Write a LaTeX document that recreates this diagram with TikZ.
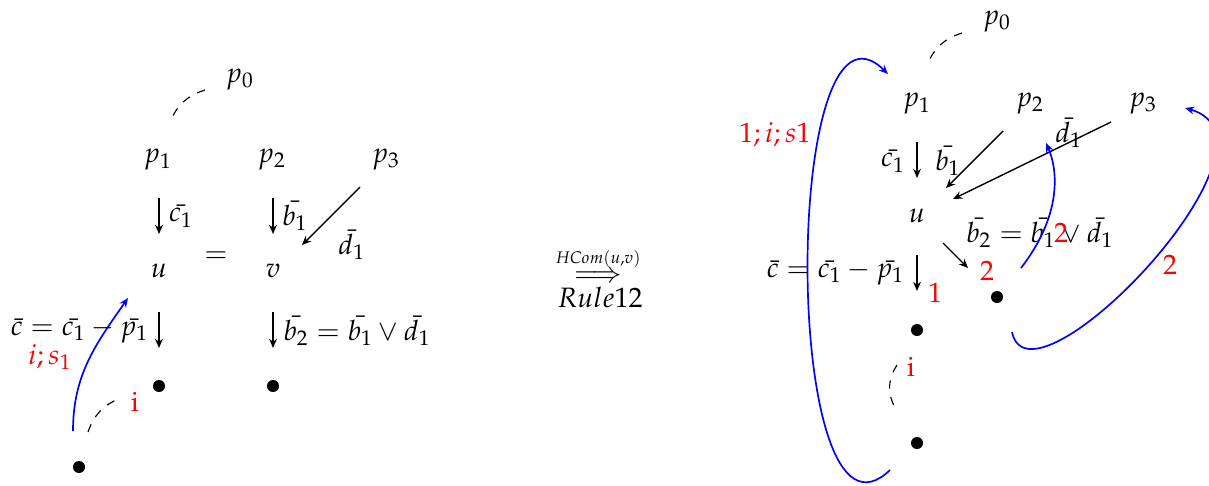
\documentclass[tikz,border=0pt]{standalone}
\usepackage{amsmath}
\usepackage{mathpazo}
\usetikzlibrary{arrows.meta}
\begin{document}
\begin{tikzpicture}[x=0.357pt,y=-0.357pt,>={Stealth[length=3.3pt,width=2.8pt,inset=1.1pt]},
  txt/.style={inner sep=0pt},
  redlbl/.style={inner sep=0pt,text=red},
  dot/.style={circle,fill=black,inner sep=0pt,minimum size=4.3pt},
  blueedge/.style={blue,->,semithick},
  arr/.style={->,line width=0.5pt},
  varr/.style={->,line width=0.6pt},
  dashedarc/.style={dashed}]
\useasboundingbox (0,0) rectangle (1209,485);
% ---------------- left panel ----------------
\node[txt] (Lp0) at (240,80) {$p_0$};
\node[txt] (Lp1) at (158,160) {$p_1$};
\node[txt] (Lp2) at (272,160) {$p_2$};
\node[txt] (Lp3) at (386,160) {$p_3$};
\node[txt] (Lc1) at (181,216) {$\bar{c_1}$};
\node[txt] (Lb1) at (295,216) {$\bar{b_1}$};
\node[txt] (Ld1) at (352,245) {$\bar{d_1}$};
\node[txt] (Lu) at (159,271) {$u$};
\node[txt] (Leq) at (216,257) {$=$};
\node[txt] (Lv) at (273,271) {$v$};
\node[txt,anchor=east] (Lc) at (149,331) {$\bar c=\bar{c_1}-\bar{p_1}$};
\node[txt,anchor=west] (Lb2) at (283,331) {$\bar{b_2}=\bar{b_1}\vee\bar{d_1}$};
\node[dot] (Ldu) at (159,386) {};
\node[dot] (Ldv) at (273,386) {};
\node[dot] (Ldi) at (79,467) {};
\node[redlbl] (Lis) at (50,357) {$i;s_1$};
\node[redlbl] (Li) at (135,402) {$\mathrm{i}$};
\coordinate (Lv1a) at (159,198); \coordinate (Lv1b) at (159,234);
\draw[varr] (Lv1a) -- (Lv1b);
\coordinate (Lv2a) at (273,198); \coordinate (Lv2b) at (273,234);
\draw[varr] (Lv2a) -- (Lv2b);
\coordinate (Lv3a) at (159,312); \coordinate (Lv3b) at (159,348);
\draw[varr] (Lv3a) -- (Lv3b);
\coordinate (Lv4a) at (273,312); \coordinate (Lv4b) at (273,348);
\draw[varr] (Lv4a) -- (Lv4b);
\coordinate (Lp0a) at (205,90);
\coordinate (Lp0b) at (170,122);
\draw[dashedarc] (Lp0a) to[bend right=25] (Lp0b);
\coordinate (Ld1a) at (360,187);
\coordinate (Ld1b) at (302,245);
\draw[arr] (Ld1a) -- (Ld1b);
\coordinate (Lbs) at (73,431);
\coordinate (Lbe) at (128,298);
\draw[blueedge] (Lbs) to[out=90,in=-125] (Lbe);
\coordinate (Lds) at (88,432);
\coordinate (Lde) at (121,398);
\draw[dashedarc] (Lds) to[bend left=25] (Lde);
% ---------------- middle ----------------
\node[txt] (Harr) at (598,265) {$\overset{\scriptscriptstyle HCom(u,v)}{\Longrightarrow}$};
\node[txt] (Rule) at (600,297) {$Rule12$};
% ---------------- right panel ----------------
\node[txt] (Rp0) at (997,22) {$p_0$};
\node[txt] (Rp1) at (917,104) {$p_1$};
\node[txt] (Rp2) at (1030,104) {$p_2$};
\node[txt] (Rp3) at (1143,104) {$p_3$};
\node[txt] (Rc1) at (893,161) {$\bar{c_1}$};
\node[txt] (Rb1) at (948,161) {$\bar{b_1}$};
\node[txt] (Rd1) at (1069,133) {$\bar{d_1}$};
\node[txt] (Ru) at (917,216) {$u$};
\node[txt] (Rb2) at (1040,233) {$\bar{b_2}=\bar{b_1}\vee\bar{d_1}$};
\node[txt,anchor=east] (Rc) at (905,273) {$\bar c=\bar{c_1}-\bar{p_1}$};
\node[dot] (Rdb) at (997,297) {};
\node[dot] (Rdu) at (917,330) {};
\node[dot] (Rdi) at (917,443) {};
\node[redlbl] (R2a) at (1061,233) {$2$};
\node[redlbl] (R2b) at (987,271) {$2$};
\node[redlbl] (R1) at (935,293) {$1$};
\node[redlbl] (Ri) at (911,367) {$\mathrm{i}$};
\node[redlbl] (R2c) at (1170,265) {$2$};
\node[redlbl] (Ris) at (775,135) {$1;i;s1$};
\coordinate (Rv1a) at (917,142); \coordinate (Rv1b) at (917,178);
\draw[varr] (Rv1a) -- (Rv1b);
\coordinate (Rv2a) at (917,255); \coordinate (Rv2b) at (917,291);
\draw[varr] (Rv2a) -- (Rv2b);
\coordinate (Rp0a) at (962,33);
\coordinate (Rp0b) at (927,65);
\draw[dashedarc] (Rp0a) to[bend right=25] (Rp0b);
\coordinate (Rp2a) at (1003,131);
\coordinate (Rp2b) at (946,188);
\draw[arr] (Rp2a) -- (Rp2b);
\coordinate (Rp3a) at (1111,122);
\coordinate (Rp3b) at (953,199);
\draw[arr] (Rp3a) -- (Rp3b);
\coordinate (Rua) at (943,243);
\coordinate (Rub) at (968,268);
\draw[arr] (Rua) -- (Rub);
\coordinate (Ria) at (897,365);
\coordinate (Rib) at (898,412);
\draw[dashedarc] (Ria) to[bend right=35] (Rib);
\coordinate (Bbig1) at (890,470);
\coordinate (Bbig2) at (888,74);
\draw[blueedge] (Bbig1) .. controls (781,575) and (781,-31) .. (Bbig2);
\coordinate (Bmid1) at (1021,268);
\coordinate (Bmid2) at (1046,143);
\draw[blueedge] (Bmid1) .. controls (1062,215) and (1058,170) .. (Bmid2);
\coordinate (Bright1) at (1012,332);
\coordinate (Bright2) at (1185,108);
\draw[blueedge] (Bright1) .. controls (1030,420) and (1300,140) .. (Bright2);
\end{tikzpicture}
\end{document}
